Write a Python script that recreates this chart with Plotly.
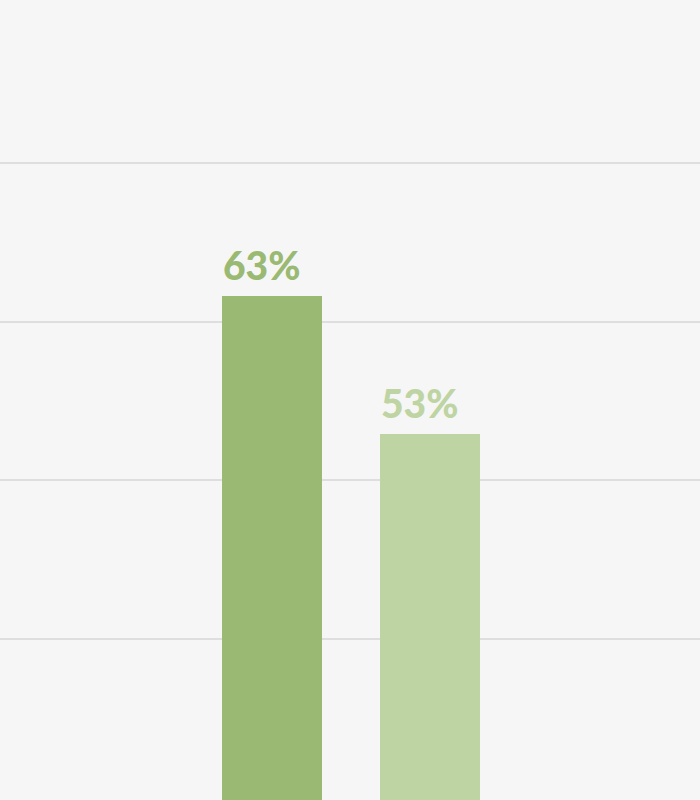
import plotly.graph_objects as go

# Bar data
categories = ["A", "B"]
values = [63, 53]
labels = ["63%", "53%"]
bar_colors = ["#9ab973", "#bed4a3"]

# Horizontal guide lines (axis values)
grid_values = [38.14, 49.64, 61.14, 72.64]

bar_width = 100 / 158

fig = go.Figure(
    go.Bar(
        x=list(range(len(categories))),
        y=values,
        width=bar_width,
        marker=dict(color=bar_colors, line=dict(width=0)),
        hoverinfo="skip",
    )
)

# Value labels, left-aligned with each bar's left edge
for i, (v, lab) in enumerate(zip(values, labels)):
    fig.add_annotation(
        x=i - bar_width / 2, y=v,
        text=lab,
        showarrow=False,
        xanchor="left", yanchor="bottom",
        xshift=-1, yshift=6,
        font=dict(family="Lato", size=39, color=bar_colors[i], weight=900),
    )

fig.update_layout(
    width=700, height=800,
    margin=dict(l=0, r=0, t=0, b=0),
    paper_bgcolor="#f6f6f6",
    plot_bgcolor="#f6f6f6",
    showlegend=False,
    bargap=0,
)

fig.update_xaxes(
    range=[-272 / 158, 428 / 158],
    showticklabels=False, showgrid=False, zeroline=False, showline=False,
)
fig.update_yaxes(
    range=[84.45 - 800 / 13.8, 84.45],
    tickmode="array", tickvals=grid_values,
    showticklabels=False, showgrid=True, gridcolor="#dedede", gridwidth=2,
    zeroline=False, showline=False,
)

fig.write_html(
    "out.html",
    config={"displayModeBar": False, "staticPlot": True},
    post_script="document.body.style.margin='0';document.body.style.background='#f6f6f6';",
)
